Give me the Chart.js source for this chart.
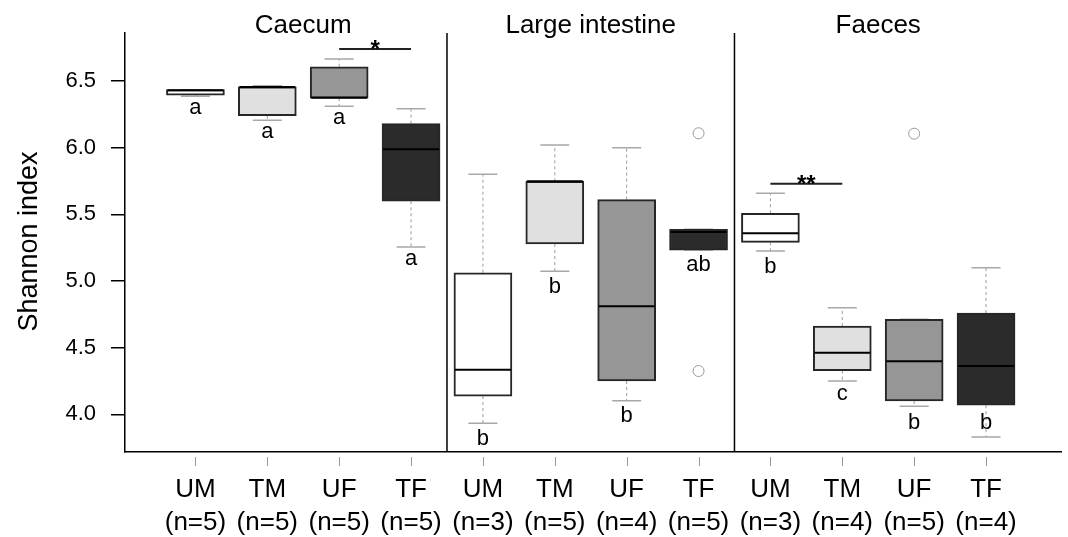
<!DOCTYPE html>
<html><head><meta charset="utf-8">
<script src="https://cdn.jsdelivr.net/npm/chart.js@4.4.1/dist/chart.umd.min.js"></script>
<style>html,body{margin:0;padding:0;background:#fff;} canvas{display:block;}</style>
</head><body>
<canvas id="c" width="1068" height="537"></canvas>
<script>
// ---- data ----
const groups = ['UM','TM','UF','TF','UM','TM','UF','TF','UM','TM','UF','TF'];
const sampleSizes = ['(n=5)','(n=5)','(n=5)','(n=5)','(n=3)','(n=5)','(n=4)','(n=5)','(n=3)','(n=4)','(n=5)','(n=4)'];
const sites = ['Caecum','Large intestine','Faeces'];
const whiskerLow  = [6.385,6.205,6.310,5.255, 3.933,5.073,4.102,5.232, 5.225,4.250,4.060,3.830];
const q1          = [6.393,6.240,6.372,5.598, 4.137,5.278,4.250,5.232, 5.290,4.327,4.100,4.068];
const median      = [6.430,6.455,6.375,5.988, 4.335,5.748,4.810,5.367, 5.358,4.462,4.398,4.362];
const q3          = [6.435,6.457,6.607,6.180, 5.062,5.748,5.610,5.388, 5.508,4.662,4.713,4.760];
const whiskerHigh = [6.435,6.465,6.665,6.292, 5.800,6.020,6.000,5.388, 5.658,4.800,4.713,5.100];
const outlierIndex = [7,7,10];
const outlierValue = [6.108,4.325,6.105];
const letters = ['a','a','a','a','b','b','b','ab','b','c','b','b'];
const letterY = [6.2525,6.07,6.18,5.12, 3.77,4.908,3.945,5.077, 5.0575,4.1075,3.888,3.888];
const sigFrom = [2,8], sigTo = [3,9], sigY = [6.74,5.73], sigLabel = ['*','**'];
const yTicks = [4.0,4.5,5.0,5.5,6.0,6.5];
const yTitle = 'Shannon index';

// ---- styles ----
const FONT = "'Liberation Sans', Arial, sans-serif";
const fills = ['#ffffff','#e0e0e0','#969696','#2b2b2b'];
Chart.defaults.font.family = FONT;
Chart.defaults.color = '#000';

const extras = {
  id: 'extras',
  beforeDatasetsDraw(chart) {
    const {ctx, scales: {x, y}} = chart;
    const bars = chart.getDatasetMeta(0).data;
    ctx.save();
    for (let i = 0; i < groups.length; i++) {
      const px = x.getPixelForValue(i);
      const hw = bars[i].width / 4;
      const yl = y.getPixelForValue(whiskerLow[i]), yb = y.getPixelForValue(q1[i]);
      const yt = y.getPixelForValue(q3[i]), yh = y.getPixelForValue(whiskerHigh[i]);
      ctx.strokeStyle = '#9a9a9a'; ctx.lineWidth = 1; ctx.setLineDash([3, 3]);
      ctx.beginPath(); ctx.moveTo(px, yb); ctx.lineTo(px, yl); ctx.moveTo(px, yt); ctx.lineTo(px, yh); ctx.stroke();
      ctx.setLineDash([]); ctx.strokeStyle = '#a8a8a8'; ctx.lineWidth = 1.5;
      ctx.beginPath(); ctx.moveTo(px - hw, yl); ctx.lineTo(px + hw, yl); ctx.moveTo(px - hw, yh); ctx.lineTo(px + hw, yh); ctx.stroke();
    }
    ctx.restore();
  },
  afterDatasetsDraw(chart) {
    const {ctx, chartArea: ca, scales: {x, y}} = chart;
    const bars = chart.getDatasetMeta(0).data;
    ctx.save();
    // medians
    ctx.strokeStyle = '#000'; ctx.lineWidth = 2;
    for (let i = 0; i < groups.length; i++) {
      const b = bars[i]; const ym = y.getPixelForValue(median[i]);
      ctx.beginPath(); ctx.moveTo(b.x - b.width / 2 + 1, ym); ctx.lineTo(b.x + b.width / 2 - 1, ym); ctx.stroke();
    }
    // letters
    ctx.fillStyle = '#000'; ctx.font = '22px ' + FONT; ctx.textAlign = 'center'; ctx.textBaseline = 'alphabetic';
    for (let i = 0; i < groups.length; i++) ctx.fillText(letters[i], x.getPixelForValue(i), y.getPixelForValue(letterY[i]));
    // significance bars
    for (let k = 0; k < sigFrom.length; k++) {
      const x0 = x.getPixelForValue(sigFrom[k]), x1 = x.getPixelForValue(sigTo[k]), yy = y.getPixelForValue(sigY[k]);
      ctx.strokeStyle = '#222'; ctx.lineWidth = 2;
      ctx.beginPath(); ctx.moveTo(x0, yy); ctx.lineTo(x1, yy); ctx.stroke();
      ctx.font = 'bold 24px ' + FONT;
      ctx.fillText(sigLabel[k], (x0 + x1) / 2, yy + 8);
    }
    // panel dividers
    ctx.strokeStyle = '#000'; ctx.lineWidth = 1.5;
    [3.5, 7.5].forEach(v => {
      const px = x.getPixelForValue(v);
      ctx.beginPath(); ctx.moveTo(px, ca.top); ctx.lineTo(px, ca.bottom); ctx.stroke();
    });
    // panel titles
    ctx.font = '26px ' + FONT;
    sites.forEach((s, k) => ctx.fillText(s, x.getPixelForValue(k * 4 + 1.5), 33));
    // x tick marks (detached from axis)
    ctx.strokeStyle = '#999'; ctx.lineWidth = 1;
    for (let i = 0; i < groups.length; i++) {
      const px = Math.round(x.getPixelForValue(i)) + 0.5;
      ctx.beginPath(); ctx.moveTo(px, ca.bottom + 5); ctx.lineTo(px, ca.bottom + 14); ctx.stroke();
    }
    // y title
    ctx.translate(36.5, 241.5); ctx.rotate(-Math.PI / 2);
    ctx.font = '27px ' + FONT; ctx.textAlign = 'center'; ctx.textBaseline = 'alphabetic';
    ctx.fillText(yTitle, 0, 0);
    ctx.restore();
  }
};

new Chart(document.getElementById('c'), {
  type: 'bar',
  data: {
    datasets: [
      {
        type: 'bar',
        data: groups.map((g, i) => ({x: i, y: [q1[i], q3[i]]})),
        backgroundColor: groups.map((g, i) => fills[i % 4]),
        borderColor: '#262626', borderWidth: 2, borderSkipped: false,
        barThickness: 58
      },
      {
        type: 'scatter',
        data: outlierIndex.map((xi, k) => ({x: xi, y: outlierValue[k]})),
        pointRadius: 5.5, pointBorderColor: '#999', pointBackgroundColor: 'rgba(0,0,0,0)', pointBorderWidth: 1,
        showLine: false
      }
    ]
  },
  options: {
    responsive: false, animation: false, devicePixelRatio: 1,
    layout: {padding: {top: 33, right: 0, left: 0, bottom: 0}},
    plugins: {legend: {display: false}, tooltip: {enabled: false}},
    scales: {
      x: {
        type: 'linear', min: -0.98, max: 12.05, offset: false,
        grid: {display: false, drawTicks: false},
        border: {display: true, color: '#000', width: 1.5},
        afterBuildTicks: s => { s.ticks = groups.map((g, i) => ({value: i})); },
        afterFit: s => { s.height = 85; },
        ticks: {
          autoSkip: false, maxRotation: 0, padding: 21.5,
          font: {size: 26, lineHeight: 1.27}, color: '#000',
          callback: v => [groups[v], sampleSizes[v]]
        }
      },
      y: {
        type: 'linear', min: 3.7175, max: 6.86,
        grid: {display: true, drawOnChartArea: false, drawTicks: true, tickLength: 14, color: '#000', lineWidth: 1.5},
        border: {display: true, color: '#000', width: 1.5},
        afterBuildTicks: s => { s.ticks = yTicks.map(v => ({value: v})); },
        afterFit: s => { s.width = 125; },
        ticks: {padding: 15, font: {size: 22}, color: '#000', callback: v => v.toFixed(1)}
      }
    }
  },
  plugins: [extras]
});
</script>
</body></html>
